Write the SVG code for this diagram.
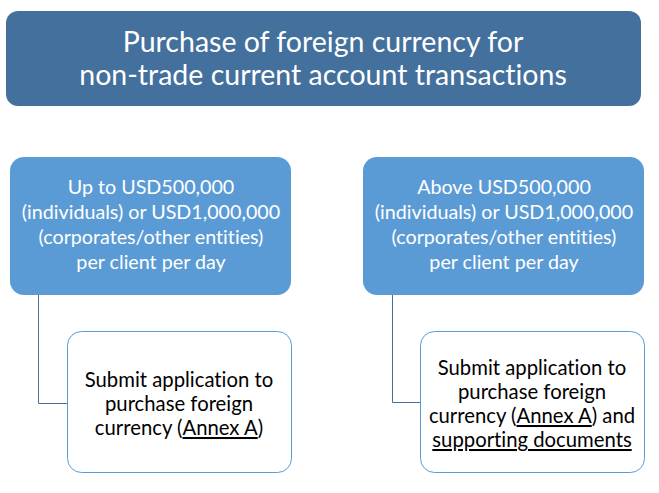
<svg xmlns="http://www.w3.org/2000/svg" width="659" height="493" viewBox="0 0 659 493">
<style>
.t{font-family:Lato,"Open Sans","Liberation Sans",sans-serif;text-anchor:middle;font-variant-ligatures:none}
.title{fill:#fff;font-size:28.5px}
.w{fill:#fff;font-size:19.7px}
.b{fill:#000;font-size:20.3px}
.blue{fill:#5b9bd5}
.white{fill:#fff;stroke:#5b9bd5;stroke-width:1}
.u{text-decoration:underline}
</style>
<rect width="659" height="493" fill="#fff"/>
<g id="title">
<rect x="6" y="11" width="635" height="95" rx="12" fill="#44709d"/>
<text class="t title" x="323" y="52">Purchase of foreign currency for</text>
<text class="t title" x="323" y="85">non-trade current account transactions</text>
</g>
<g id="connectors" fill="none" stroke="#41719c" stroke-width="1">
<path d="M38.5 295V403.5H67"/>
<path d="M392.5 295V402.5H420"/>
</g>
<g id="left-top">
<rect class="blue" x="10" y="157" width="281" height="138" rx="14"/>
<text class="t w" x="151" y="194">Up to USD500,000</text>
<text class="t w" x="151" y="219">(individuals) or USD1,000,000</text>
<text class="t w" x="151" y="244">(corporates/other entities)</text>
<text class="t w" x="151" y="269">per client per day</text>
</g>
<g id="right-top">
<rect class="blue" x="363" y="157" width="281" height="138" rx="14"/>
<text class="t w" x="504" y="194">Above USD500,000</text>
<text class="t w" x="504" y="219">(individuals) or USD1,000,000</text>
<text class="t w" x="504" y="244">(corporates/other entities)</text>
<text class="t w" x="504" y="269">per client per day</text>
</g>
<g id="left-bottom">
<rect class="white" x="67.5" y="331.5" width="224" height="141" rx="14"/>
<text class="t b" x="179" y="387">Submit application to</text>
<text class="t b" x="179" y="411">purchase foreign</text>
<text class="t b" x="179" y="435">currency (<tspan class="u">Annex A</tspan>)</text>
</g>
<g id="right-bottom">
<rect class="white" x="420.5" y="331.5" width="224" height="141" rx="14"/>
<text class="t b" x="532" y="375">Submit application to</text>
<text class="t b" x="532" y="399">purchase foreign</text>
<text class="t b" x="532" y="423">currency (<tspan class="u">Annex A</tspan>) and</text>
<text class="t b" x="532" y="447"><tspan class="u">supporting documents</tspan></text>
</g>
</svg>
